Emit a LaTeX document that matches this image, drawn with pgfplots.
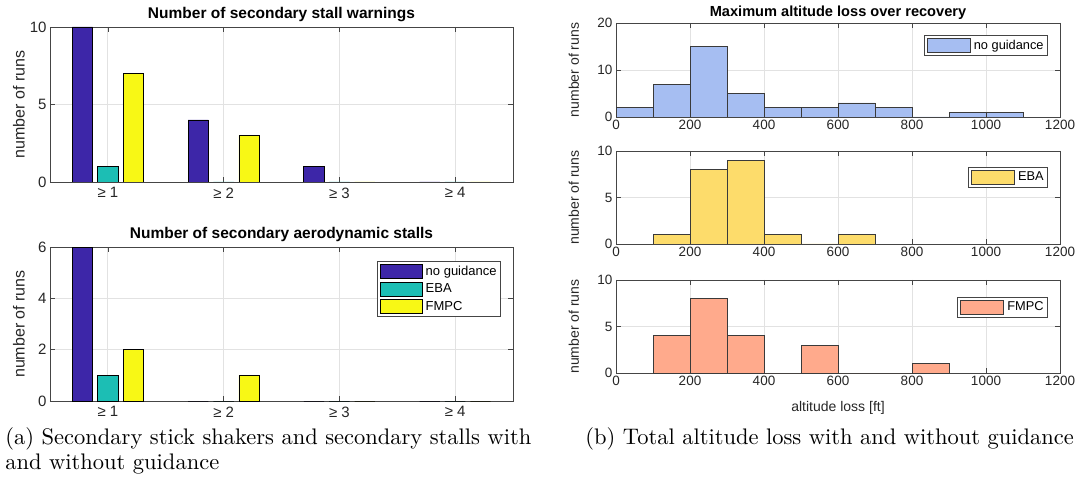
\documentclass[border=0pt]{standalone}
\usepackage{fontspec}
\newfontfamily\hv{Liberation Sans}
\usepackage{pgfplots}
\pgfplotsset{compat=1.18}

\definecolor{cBlue}{HTML}{3D26A8}
\definecolor{cTeal}{HTML}{1CBEB4}
\definecolor{cYel}{HTML}{F8F815}
\definecolor{hBlue}{HTML}{A6BEF2}
\definecolor{hYel}{HTML}{FDDC6B}
\definecolor{hRed}{HTML}{FFAA8C}
\definecolor{axc}{HTML}{454545}
\definecolor{gridc}{HTML}{E2E2E2}
\definecolor{edgec}{HTML}{3A3A3A}

\pgfplotsset{
  mystyle/.style={
    scale only axis,
    anchor=south west,
    axis line style={axc, line width=0.9pt},
    tick style={axc, line width=0.7pt},
    major tick length=5pt,
    grid=major,
    grid style={gridc, line width=0.8pt},
    scaled ticks=false,
    /pgf/number format/1000 sep={},
    /pgf/number format/assume math mode=true,
    legend cell align=left,
  },
  leftstyle/.style={
    mystyle,
    width=463pt,
    xmin=0.5, xmax=4.5, ymin=0,
    xtick={1,2,3,4},
    xticklabels={≥ 1,≥ 2,≥ 3,≥ 4},
    tick label style={font=\hv\fontsize{15}{17}\selectfont, text=black!85},
    xticklabel style={yshift=-2pt},
    ylabel style={font=\hv\fontsize{16}{18}\selectfont, text=black!85, at={(axis description cs:-0.067,0.5)}, anchor=center},
    title style={font=\hv\bfseries\fontsize{15.5}{18}\selectfont, at={(axis description cs:0.5,1)}, anchor=south, yshift=-4pt},
    legend image code/.code={\draw[##1] (0pt,-7pt) rectangle (42pt,7pt);},
  },
  rightstyle/.style={
    mystyle,
    width=444pt,
    xmin=0, xmax=1200, ymin=0,
    xtick={0,200,...,1200},
    tick label style={font=\hv\fontsize{13.5}{15}\selectfont, text=black!85},
    ylabel style={font=\hv\fontsize{14}{16}\selectfont, text=black!85, at={(axis description cs:-0.095,0.5)}, anchor=center},
    xlabel style={font=\hv\fontsize{14}{16}\selectfont, text=black!85},
    title style={font=\hv\bfseries\fontsize{14.6}{17}\selectfont, at={(axis description cs:0.5,1)}, anchor=south, yshift=-6pt},
    legend image code/.code={\draw[##1] (0pt,-7pt) rectangle (43pt,7pt);},
    legend style={font=\hv\fontsize{12.8}{15}\selectfont, draw=axc, line width=0.8pt, inner sep=2.5pt, nodes={inner sep=1.5pt},
      /tikz/every odd column/.append style={column sep=2pt}},
  },
}

\begin{document}
\begin{tikzpicture}
\useasboundingbox (0pt,0pt) rectangle (1079pt,485pt);

% ---------------- left top ----------------
\begin{axis}[leftstyle, at={(50pt,303pt)}, height=155pt, ymax=10, ytick={0,5,10},
  title={Number of secondary stall warnings}, ylabel={number of runs}]
\addplot[ybar, bar width=0.175, bar shift=-0.22, fill=cBlue, draw=black, line width=0.7pt]
  coordinates {(1,10) (2,4) (3,1) (4,0)};
\addplot[ybar, bar width=0.175, bar shift=0, fill=cTeal, draw=black, line width=0.7pt]
  coordinates {(1,1) (2,0) (3,0) (4,0)};
\addplot[ybar, bar width=0.175, bar shift=0.22, fill=cYel, draw=black, line width=0.7pt]
  coordinates {(1,7) (2,3) (3,0) (4,0)};
\end{axis}

% ---------------- left bottom ----------------
\begin{axis}[leftstyle, at={(50pt,84pt)}, height=154pt, ymax=6, ytick={0,2,4,6},
  title={Number of secondary aerodynamic stalls}, ylabel={number of runs},
  legend style={at={(axis description cs:0.974,0.909)}, anchor=north east,
    font=\hv\fontsize{13}{15}\selectfont, draw=axc, line width=0.8pt,
    inner sep=2.5pt, row sep=3pt, nodes={inner sep=1.5pt},
    /tikz/every odd column/.append style={column sep=2pt}}]
\addplot[ybar, bar width=0.175, bar shift=-0.22, fill=cBlue, draw=black, line width=0.7pt]
  coordinates {(1,6) (2,0) (3,0) (4,0)};
\addlegendentry{no guidance}
\addplot[ybar, bar width=0.175, bar shift=0, fill=cTeal, draw=black, line width=0.7pt]
  coordinates {(1,1) (2,0) (3,0) (4,0)};
\addlegendentry{EBA}
\addplot[ybar, bar width=0.175, bar shift=0.22, fill=cYel, draw=black, line width=0.7pt]
  coordinates {(1,2) (2,1) (3,0) (4,0)};
\addlegendentry{FMPC}
\end{axis}

% ---------------- right top ----------------
\begin{axis}[rightstyle, at={(616pt,368pt)}, height=94pt, ymax=20, ytick={0,10,20},
  title={Maximum altitude loss over recovery}, ylabel={number of runs},
  legend style={at={(axis description cs:0.973,0.872)}, anchor=north east}]
\addplot[ybar interval, fill=hBlue, draw=edgec, line width=0.7pt]
  coordinates {(0,2) (100,7) (200,15) (300,5) (400,2) (500,2) (600,3) (700,2) (800,0) (900,1) (1000,1) (1100,0)};
\addlegendentry{no guidance}
\end{axis}

% ---------------- right middle ----------------
\begin{axis}[rightstyle, at={(616pt,241pt)}, height=93pt, ymax=10, ytick={0,5,10},
  ylabel={number of runs},
  legend style={at={(axis description cs:0.973,0.828)}, anchor=north east}]
\addplot[ybar interval, fill=hYel, draw=edgec, line width=0.7pt]
  coordinates {(100,1) (200,8) (300,9) (400,1) (500,0) (600,1) (700,0)};
\addlegendentry{EBA}
\end{axis}

% ---------------- right bottom ----------------
\begin{axis}[rightstyle, at={(616pt,112pt)}, height=93pt, ymax=10, ytick={0,5,10},
  ylabel={number of runs}, xlabel={altitude loss [ft]},
  xlabel style={at={(axis description cs:0.5,-0.376)}, anchor=center},
  legend style={at={(axis description cs:0.973,0.817)}, anchor=north east}]
\addplot[ybar interval, fill=hRed, draw=edgec, line width=0.7pt]
  coordinates {(100,4) (200,8) (300,4) (400,0) (500,3) (600,0) (700,0) (800,1) (900,0)};
\addlegendentry{FMPC}
\end{axis}

% ---------------- captions ----------------
\node[anchor=base west, inner sep=0, scale=2.25] at (5pt,41pt)
  {\fontsize{10}{12}\selectfont (a) Secondary stick shakers and secondary stalls with};
\node[anchor=base west, inner sep=0, scale=2.25] at (5pt,16pt)
  {\fontsize{10}{12}\selectfont and without guidance};
\node[anchor=base west, inner sep=0, scale=2.25] at (585pt,41pt)
  {\fontsize{10}{12}\selectfont (b) Total altitude loss with and without guidance};
\end{tikzpicture}
\end{document}
